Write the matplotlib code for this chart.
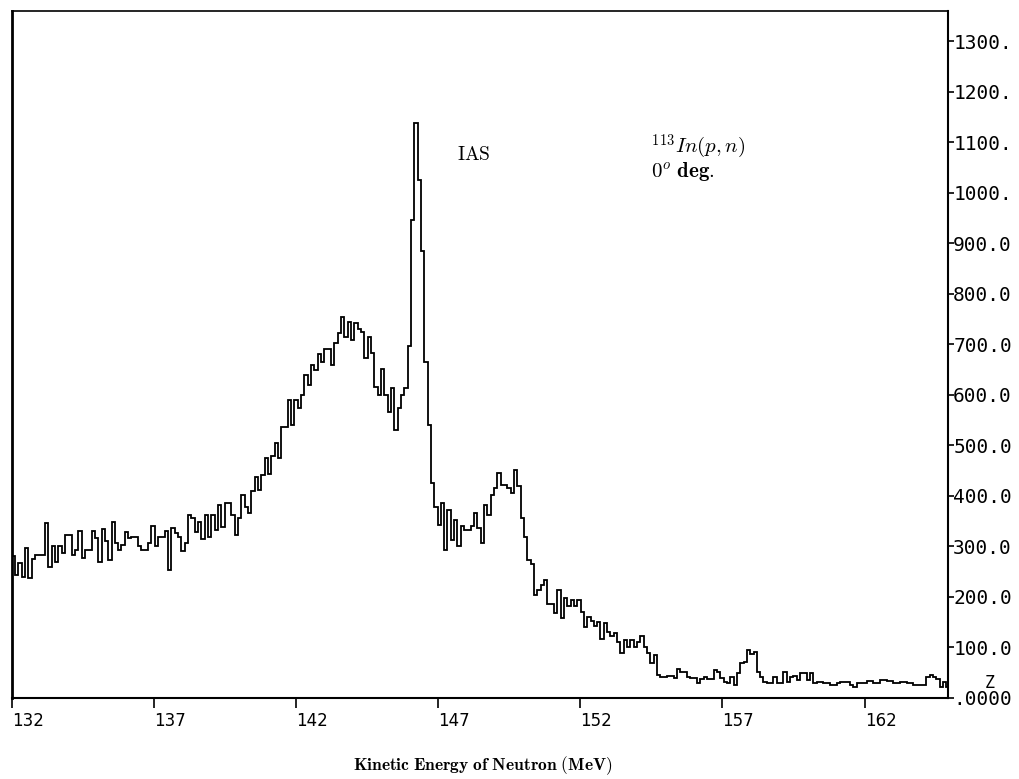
import numpy as np
import matplotlib.pyplot as plt

plt.rcParams['mathtext.fontset'] = 'cm'

# histogram of neutron spectrum, 113In(p,n) at 0 deg
e_start = 132.0      # MeV, left edge of first bin
bin_width = 0.117    # MeV

counts = [
    281, 244, 267, 240, 296, 237, 275, 283, 283, 283,
    346, 260, 300, 270, 300, 286, 323, 323, 283, 293,
    331, 277, 293, 293, 331, 316, 270, 334, 310, 273,
    349, 306, 293, 303, 329, 316, 319, 319, 300, 293,
    293, 306, 341, 300, 319, 319, 330, 253, 336, 326,
    319, 290, 306, 362, 356, 329, 349, 314, 362, 319,
    362, 333, 382, 339, 385, 385, 362, 323, 356, 402,
    379, 366, 409, 438, 412, 442, 475, 444, 478, 504,
    475, 537, 537, 590, 541, 590, 574, 600, 640, 620,
    660, 650, 680, 665, 690, 690, 659, 703, 723, 755,
    715, 745, 709, 742, 730, 725, 673, 715, 683, 616,
    600, 652, 600, 567, 614, 531, 574, 600, 614, 696,
    947, 1138, 1026, 884, 666, 540, 425, 379, 343, 385,
    293, 373, 313, 352, 300, 341, 333, 333, 340, 366,
    336, 307, 382, 362, 402, 416, 446, 422, 422, 416,
    406, 451, 419, 356, 319, 273, 266, 204, 214, 224,
    234, 186, 186, 168, 214, 158, 198, 182, 194, 182,
    194, 170, 140, 160, 152, 142, 150, 117, 148, 131,
    122, 128, 110, 89, 115, 100, 115, 100, 110, 122,
    100, 90, 69, 85, 46, 42, 42, 43, 43, 39,
    57, 52, 52, 42, 39, 39, 29, 37, 41, 37,
    37, 55, 52, 39, 32, 29, 42, 26, 49, 69,
    72, 95, 88, 92, 52, 42, 32, 29, 29, 42,
    30, 30, 52, 32, 42, 44, 36, 50, 50, 36,
    49, 30, 32, 32, 29, 29, 26, 26, 29, 32,
    32, 32, 26, 22, 30, 29, 29, 34, 34, 30,
    30, 36, 36, 34, 34, 29, 29, 32, 32, 29,
    29, 26, 26, 26, 26, 42, 46, 42, 37, 22,
    32, 22,
]

x_ticks = [132, 137, 142, 147, 152, 157, 162]
y_ticks = list(range(0, 1400, 100))
y_tick_labels = ['.0000', '100.0', '200.0', '300.0', '400.0', '500.0', '600.0',
                 '700.0', '800.0', '900.0', '1000.', '1100.', '1200.', '1300.']

counts = np.array(counts, dtype=float)
edges = e_start + bin_width * np.arange(len(counts) + 1)

fig = plt.figure(figsize=(10.19, 7.79), dpi=100)
ax = fig.add_axes([0.0115, 0.104, 0.9185, 0.882])

ax.stairs(counts, edges, baseline=None, color='black', linewidth=1.3)

ax.set_xlim(132.0, 164.92)
ax.set_ylim(0, 1360)

# x axis: ticks below, labels start at the tick
ax.set_xticks(x_ticks)
ax.set_xticklabels([str(t) for t in x_ticks], fontsize=12, ha='left')
ax.tick_params(axis='x', direction='out', length=7, width=1.2, pad=3)

# y axis on the right
ax.yaxis.tick_right()
ax.set_yticks(y_ticks)
ax.set_yticklabels(y_tick_labels, fontsize=14, family='DejaVu Sans Mono')
ax.tick_params(axis='y', direction='out', length=4, width=1.2, pad=0)

for side, lw in [('left', 2.0), ('bottom', 1.5), ('top', 1.2), ('right', 1.5)]:
    ax.spines[side].set_linewidth(lw)

ax.text(1.045, 0.022, 'Z', transform=ax.transAxes, fontsize=12,
        family='DejaVu Sans Mono', ha='center', va='center')

ax.text(147.66, 1075, r'$\mathrm{IAS}$', fontsize=14, va='center', ha='left')
ax.text(154.48, 1090, r'$^{\mathbf{113}}In(p,n)$', fontsize=15, va='center', ha='left')
ax.text(154.48, 1043, r'$\mathbf{0}^{o}\ \mathbf{deg.}$', fontsize=15, va='center', ha='left')

fig.text(0.474, 0.003, r'$\mathbf{Kinetic\ Energy\ of\ Neutron\ (MeV)}$',
         fontsize=12.5, ha='center', va='bottom')

plt.savefig('out.png', dpi=100)
